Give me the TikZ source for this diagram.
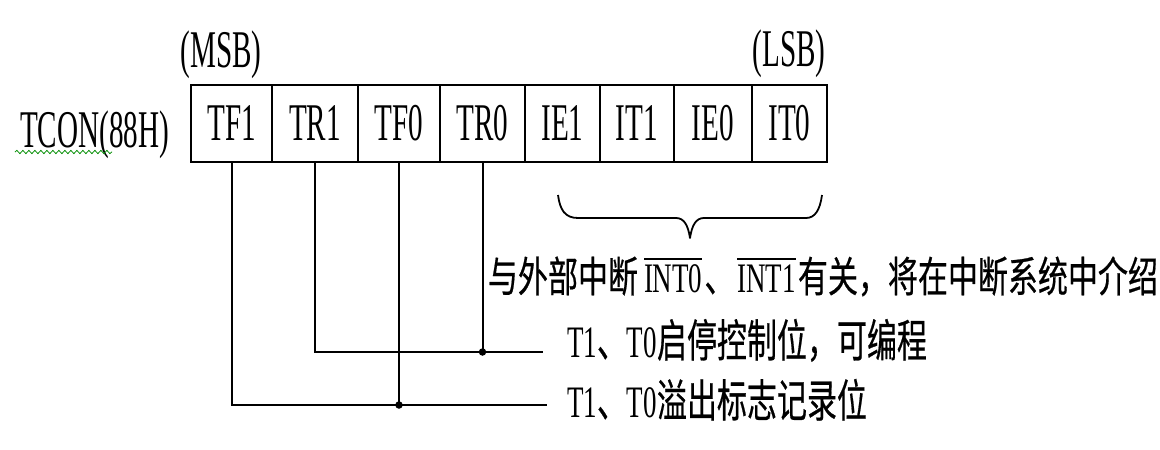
\documentclass[tikz,border=0pt]{standalone}
\usepackage{fontspec}
\setmainfont{Liberation Serif}
\newfontfamily\cjk[FakeBold=0.6]{Noto Sans CJK SC}
\usetikzlibrary{decorations.pathmorphing}
\newcommand\hw[1]{\scalebox{0.9}[1]{\rmfamily\fontsize{30}{30}\selectfont #1}}
\newcommand\ovl[1]{\vbox{\hrule height 1.6pt\kern 3pt\hbox{#1}}}
\newcommand\regtext[1]{\scalebox{0.55}[1]{\fontsize{53}{53}\selectfont #1}}
\tikzset{
  cell/.style={draw, line width=2.2pt, minimum width=#1, minimum height=77pt, inner sep=0pt},
  lbl/.style={inner sep=0pt, outer sep=0pt},
  wire/.style={line width=2pt},
  dot/.style={circle, fill, inner sep=0pt, minimum size=7.5pt},
}
\begin{document}
\begin{tikzpicture}[x=1pt, y=-1pt]
\useasboundingbox (0,0) rectangle (1160,450);
% register label
\node[lbl, anchor=base west] (tcon) at (20,147) {\regtext{TCON(88H)}};
\draw[green!55!black, line width=0.8pt, decorate, decoration={snake, segment length=6pt, amplitude=1.6pt}] (15,152) -- (112,152);
% MSB / LSB
\node[lbl, anchor=base] (msb) at (221,67) {\regtext{(MSB)}};
\node[lbl, anchor=base] (lsb) at (789,66) {\regtext{(LSB)}};
% cells
\node[cell=81pt] (c1) at (231.5,123.5) {\regtext{TF1}};
\node[cell=86pt] (c2) at (315,123.5) {\regtext{TR1}};
\node[cell=82pt] (c3) at (399,123.5) {\regtext{TF0}};
\node[cell=85pt] (c4) at (482.5,123.5) {\regtext{TR0}};
\node[cell=75pt] (c5) at (562.5,123.5) {\regtext{IE1}};
\node[cell=74pt] (c6) at (637,123.5) {\regtext{IT1}};
\node[cell=78pt] (c7) at (713,123.5) {\regtext{IE0}};
\node[cell=75pt] (c8) at (789.5,123.5) {\regtext{IT0}};
% brace
\draw[line width=1.8pt, line join=round]
  (558,195) .. controls (560,210) and (565,218) .. (578,218) -- (676,218)
  .. controls (684,218) and (688,225) .. (690,238)
  .. controls (692,225) and (696,218) .. (704,218) -- (806,218)
  .. controls (815,218) and (820,210) .. (822,195);
% texts
\node[lbl, anchor=base west] (t0) at (488,292) {\scalebox{1}[1.4]{\cjk\fontsize{30}{30}\selectfont 与外部中断\hspace{6pt}\hw{\ovl{INT0}}\hspace{2pt}、\hspace{3pt}\hw{\ovl{INT1}}\hspace{2pt}有关，将在中断系统中介绍}};
\node[lbl, anchor=base west] (t1) at (567,357) {\scalebox{1}[1.5]{\cjk\fontsize{30}{30}\selectfont \hw{T1}、\hw{T0}启停控制位，可编程}};
\node[lbl, anchor=base west] (t2) at (567,417) {\scalebox{1}[1.5]{\cjk\fontsize{30}{30}\selectfont \hw{T1}、\hw{T0}溢出标志记录位}};
% wires
\coordinate (e1) at (547,405);
\coordinate (e2) at (543,352);
\draw[wire] (c1.south) |- (e1);
\draw[wire] (c2.south) |- (e2);
\draw[wire] (c3.south) -- (c3.south |- e1) node[dot] (d1) {};
\draw[wire] (c4.south) -- (c4.south |- e2) node[dot] (d2) {};
\end{tikzpicture}
\end{document}
